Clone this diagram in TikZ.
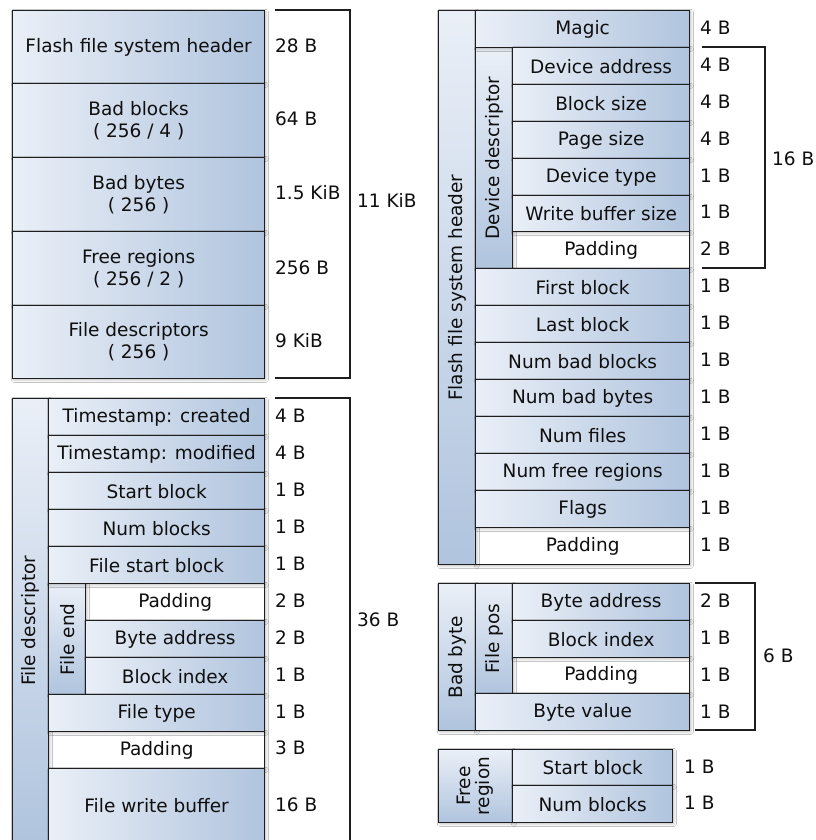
\documentclass[tikz,border=0pt]{standalone}
\usepackage{fontspec}
\setmainfont{DejaVu Sans}
\usetikzlibrary{shadows.blur}

\definecolor{cellL}{RGB}{234,239,247}
\definecolor{cellR}{RGB}{176,196,222}
\definecolor{edge}{RGB}{30,30,30}
\definecolor{ink}{RGB}{15,15,15}

\tikzset{
  soft/.style={blur shadow={shadow xshift=1.2pt, shadow yshift=-1.2pt,
      shadow blur radius=2.5pt, shadow opacity=28, shadow blur steps=6}},
  cellbase/.style={draw=edge, line width=1.3pt, inner sep=0pt, align=center,
      text=ink, anchor=north west, soft},
  hcell/.style={cellbase, left color=cellL, right color=cellR},
  vcell/.style={cellbase, top color=cellL, bottom color=cellR},
  padcell/.style={cellbase, fill=white},
  sizetag/.style={anchor=west, inner sep=0pt, text=ink},
  brace/.style={draw=edge, line width=1.2pt}
}

% one memory field: style, name, x1, y1, x2, y2, text
\newcommand\memcell[7]{%
  \pgfmathsetmacro\cw{#5-#3}\pgfmathsetmacro\ch{#6-#4}%
  \node[#1, minimum width=\cw pt, minimum height=\ch pt] (#2) at (#3,#4) {#7};}
% size annotation: name, x, y, text
\newcommand\sizetag[4]{\node[sizetag] (#1) at (#2,#3) {#4};}

\begin{document}
\begin{tikzpicture}[x=1pt, y=-1pt, font=\fontsize{18.5}{22}\selectfont]
\fill[white] (0,0) rectangle (815,840);
\useasboundingbox (0,0) rectangle (815,840);

% ---------------- flash image layout ----------------
\memcell{hcell}{imgHdr}{12}{10}{264}{83}{Flash file system header}
\memcell{hcell}{imgBadBlk}{12}{83}{264}{157}{Bad blocks\\( 256 / 4 )}
\memcell{hcell}{imgBadByt}{12}{157}{264}{231}{Bad bytes\\( 256 )}
\memcell{hcell}{imgFree}{12}{231}{264}{305}{Free regions\\( 256 / 2 )}
\memcell{hcell}{imgFiles}{12}{305}{264}{378}{File descriptors\\( 256 )}
\sizetag{sImgHdr}{275}{46}{28 B}
\sizetag{sImgBadBlk}{275}{119}{64 B}
\sizetag{sImgBadByt}{275}{193}{1.5 KiB}
\sizetag{sImgFree}{275}{268}{256 B}
\sizetag{sImgFiles}{275}{341}{9 KiB}
\draw[brace] (275,10) -- (350,10) -- (350,378) -- (275,378);
\sizetag{sImgTotal}{357}{200}{11 KiB}

% ---------------- file descriptor ----------------
\memcell{padcell}{fdEndPad}{85}{583}{264}{620}{Padding}
\memcell{padcell}{fdPad}{48}{731}{264}{768}{Padding}
\memcell{vcell}{fdCol}{12}{398}{48}{842}{\rotatebox{90}{File descriptor}}
\memcell{vcell}{fdEndCol}{48}{583}{85}{694}{\rotatebox{90}{File end}}
\memcell{hcell}{fdCreated}{48}{398}{264}{435}{Timestamp: created}
\memcell{hcell}{fdModified}{48}{435}{264}{472}{Timestamp: modified}
\memcell{hcell}{fdStart}{48}{472}{264}{509}{Start block}
\memcell{hcell}{fdNum}{48}{509}{264}{546}{Num blocks}
\memcell{hcell}{fdFileStart}{48}{546}{264}{583}{File start block}
\memcell{hcell}{fdEndByte}{85}{620}{264}{657}{Byte address}
\memcell{hcell}{fdEndBlk}{85}{657}{264}{694}{Block index}
\memcell{hcell}{fdType}{48}{694}{264}{731}{File type}
\memcell{hcell}{fdBuf}{48}{768}{264}{842}{File write buffer}
\sizetag{sFd1}{275}{416}{4 B}
\sizetag{sFd2}{275}{453}{4 B}
\sizetag{sFd3}{275}{490}{1 B}
\sizetag{sFd4}{275}{527}{1 B}
\sizetag{sFd5}{275}{564}{1 B}
\sizetag{sFd6}{275}{601}{2 B}
\sizetag{sFd7}{275}{638}{2 B}
\sizetag{sFd8}{275}{675}{1 B}
\sizetag{sFd9}{275}{712}{1 B}
\sizetag{sFd10}{275}{748}{3 B}
\sizetag{sFd11}{275}{805}{16 B}
\draw[brace] (275,398) -- (350,398) -- (350,850);
\sizetag{sFdTotal}{357}{620}{36 B}

% ---------------- flash file system header ----------------
\memcell{padcell}{hdDevPad}{512}{231}{689}{268}{Padding}
\memcell{padcell}{hdPad}{475}{527}{689}{564}{Padding}
\memcell{vcell}{hdCol}{438}{10}{475}{564}{\rotatebox{90}{Flash file system header}}
\memcell{vcell}{hdDevCol}{475}{47}{512}{268}{\rotatebox{90}{Device descriptor}}
\memcell{hcell}{hdMagic}{475}{10}{689}{47}{Magic}
\memcell{hcell}{hdDevAddr}{512}{47}{689}{84}{Device address}
\memcell{hcell}{hdBlkSize}{512}{84}{689}{121}{Block size}
\memcell{hcell}{hdPageSize}{512}{121}{689}{158}{Page size}
\memcell{hcell}{hdDevType}{512}{158}{689}{195}{Device type}
\memcell{hcell}{hdWbSize}{512}{195}{689}{231}{Write buffer size}
\memcell{hcell}{hdFirst}{475}{268}{689}{305}{First block}
\memcell{hcell}{hdLast}{475}{305}{689}{342}{Last block}
\memcell{hcell}{hdNBadBlk}{475}{342}{689}{379}{Num bad blocks}
\memcell{hcell}{hdNBadByt}{475}{379}{689}{416}{Num bad bytes}
\memcell{hcell}{hdNFiles}{475}{416}{689}{453}{Num files}
\memcell{hcell}{hdNFree}{475}{453}{689}{490}{Num free regions}
\memcell{hcell}{hdFlags}{475}{490}{689}{527}{Flags}
\sizetag{sHd1}{700}{28}{4 B}
\sizetag{sHd2}{700}{65}{4 B}
\sizetag{sHd3}{700}{102}{4 B}
\sizetag{sHd4}{700}{139}{4 B}
\sizetag{sHd5}{700}{176}{1 B}
\sizetag{sHd6}{700}{212}{1 B}
\sizetag{sHd7}{700}{249}{2 B}
\sizetag{sHd8}{700}{286}{1 B}
\sizetag{sHd9}{700}{323}{1 B}
\sizetag{sHd10}{700}{360}{1 B}
\sizetag{sHd11}{700}{397}{1 B}
\sizetag{sHd12}{700}{434}{1 B}
\sizetag{sHd13}{700}{471}{1 B}
\sizetag{sHd14}{700}{508}{1 B}
\sizetag{sHd15}{700}{545}{1 B}
\draw[brace] (702,47) -- (765,47) -- (765,268) -- (702,268);
\sizetag{sHdDev}{772}{159}{16 B}

% ---------------- bad byte ----------------
\memcell{padcell}{bbPad}{512}{657}{689}{693}{Padding}
\memcell{vcell}{bbCol}{438}{583}{475}{730}{\rotatebox{90}{Bad byte}}
\memcell{vcell}{bbPosCol}{475}{583}{512}{693}{\rotatebox{90}{File pos}}
\memcell{hcell}{bbByte}{512}{583}{689}{620}{Byte address}
\memcell{hcell}{bbBlk}{512}{620}{689}{657}{Block index}
\memcell{hcell}{bbVal}{475}{693}{689}{730}{Byte value}
\sizetag{sBb1}{700}{601}{2 B}
\sizetag{sBb2}{700}{638}{1 B}
\sizetag{sBb3}{700}{675}{1 B}
\sizetag{sBb4}{700}{712}{1 B}
\draw[brace] (695,583) -- (755,583) -- (755,730) -- (695,730);
\sizetag{sBbTotal}{763}{656}{6 B}

% ---------------- free region ----------------
\memcell{vcell}{frCol}{438}{749}{512}{822}{\rotatebox{90}{\begin{tabular}{@{}c@{}}Free\\[-3pt]region\end{tabular}}}
\memcell{hcell}{frStart}{512}{749}{672}{785}{Start block}
\memcell{hcell}{frNum}{512}{785}{672}{822}{Num blocks}
\sizetag{sFr1}{684}{767}{1 B}
\sizetag{sFr2}{684}{803}{1 B}
\end{tikzpicture}
\end{document}
